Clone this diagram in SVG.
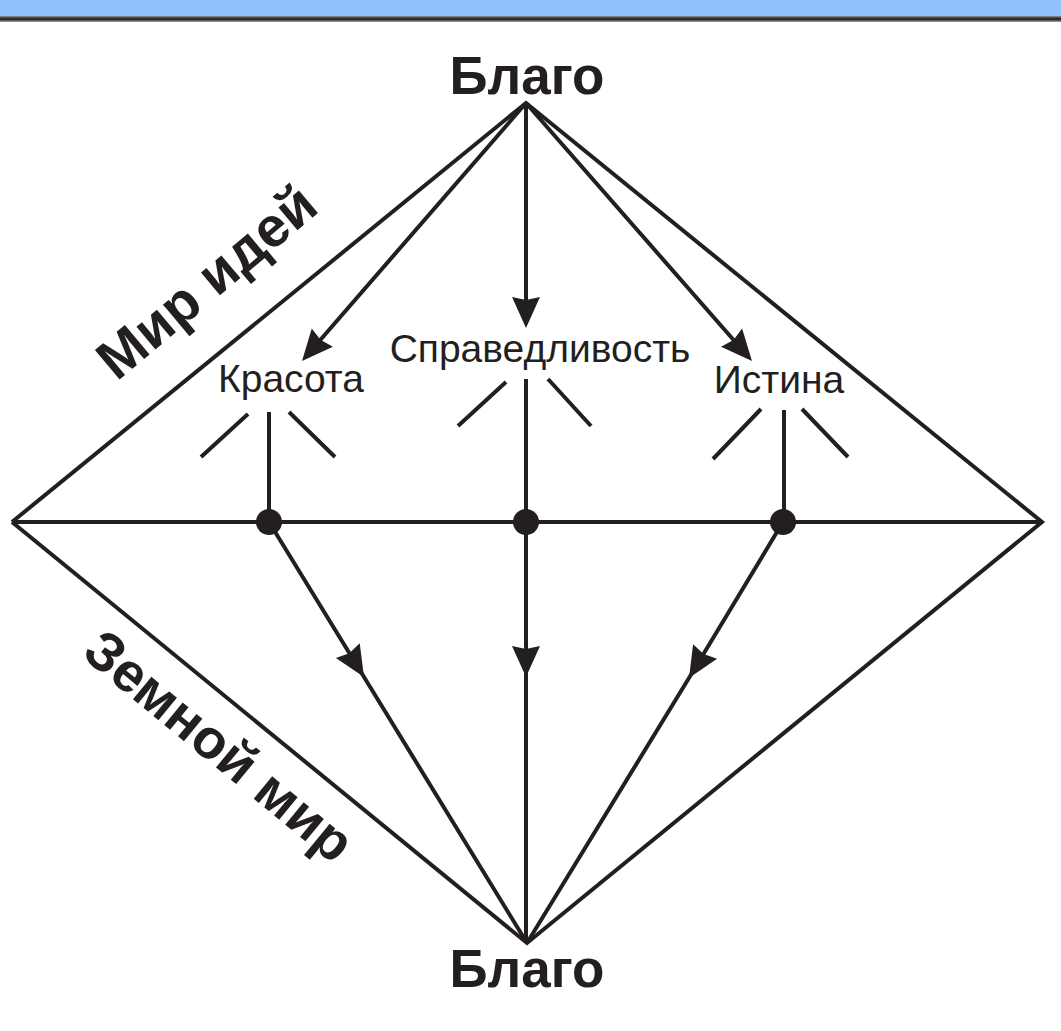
<svg xmlns="http://www.w3.org/2000/svg" width="1061" height="1031" viewBox="0 0 1061 1031">
<style>
.ln{stroke:#231f20;stroke-width:4;fill:none;stroke-linecap:butt}
.bold{font-family:"Liberation Sans",Arial,sans-serif;font-weight:bold;fill:#231f20}
.reg{font-family:"Liberation Sans",Arial,sans-serif;fill:#231f20;font-size:39px}
.dot{fill:#231f20}
</style>
<defs>
<marker id="arrEnd" markerUnits="userSpaceOnUse" markerWidth="32" markerHeight="30" viewBox="0 0 32 30" refX="26" refY="15" orient="auto">
<path d="M0,1 L31,15 L0,29 L3,15 Z" fill="#231f20"/>
</marker>
<marker id="arrMid" markerUnits="userSpaceOnUse" markerWidth="32" markerHeight="30" viewBox="0 0 32 30" refX="31" refY="15" orient="auto">
<path d="M0,1 L31,15 L0,29 L3,15 Z" fill="#231f20"/>
</marker>
</defs>
<rect width="1061" height="1031" fill="#ffffff"/>
<g id="header">
<rect x="0" y="0" width="1061" height="16.5" fill="#90c3fe"/>
<rect x="0" y="16.5" width="1061" height="5" fill="#2f2b2c"/>
<rect x="0" y="16.5" width="1061" height="1" fill="#777"/>
<rect x="0" y="20.5" width="1061" height="1" fill="#888"/>
</g>
<g id="connectors">
<polyline class="ln" points="12,522 526,103 1042,522 527,943 12,522"/>
<line class="ln" x1="12" y1="522" x2="1042" y2="522"/>
<line class="ln" x1="526" y1="103" x2="305.3" y2="357.2" marker-end="url(#arrEnd)"/>
<line class="ln" x1="526" y1="103" x2="526" y2="323" marker-end="url(#arrEnd)"/>
<line class="ln" x1="526" y1="103" x2="748.7" y2="357.2" marker-end="url(#arrEnd)"/>
<path class="ln" d="M269,522 L364,677 L527,943" marker-mid="url(#arrMid)"/>
<path class="ln" d="M526,522 L526,677 L526,943" marker-mid="url(#arrMid)"/>
<path class="ln" d="M783,522 L689,678 L527,943" marker-mid="url(#arrMid)"/>
<line class="ln" x1="269" y1="412" x2="269" y2="522"/>
<line class="ln" x1="248" y1="414" x2="201" y2="457"/>
<line class="ln" x1="289" y1="412" x2="335" y2="457"/>
<line class="ln" x1="526" y1="379" x2="526" y2="522"/>
<line class="ln" x1="506" y1="382" x2="458" y2="426"/>
<line class="ln" x1="548" y1="379" x2="591" y2="426"/>
<line class="ln" x1="784" y1="410" x2="784" y2="522"/>
<line class="ln" x1="761" y1="409" x2="713" y2="459"/>
<line class="ln" x1="802" y1="409" x2="848" y2="457"/>
</g>
<g id="node-blago-top"><text class="bold" x="527" y="94" font-size="53" text-anchor="middle">Благо</text></g>
<g id="node-blago-bottom"><text class="bold" x="527" y="987" font-size="53" text-anchor="middle">Благо</text></g>
<g id="node-krasota"><text class="reg" x="291" y="392" text-anchor="middle">Красота</text><circle class="dot" cx="269" cy="522" r="13"/></g>
<g id="node-spravedlivost"><text class="reg" x="540" y="362" text-anchor="middle">Справедливость</text><circle class="dot" cx="526" cy="522" r="13"/></g>
<g id="node-istina"><text class="reg" x="779" y="393" text-anchor="middle">Истина</text><circle class="dot" cx="783" cy="522" r="13"/></g>
<g id="label-mir-idei"><text class="bold" font-size="56" text-anchor="middle" transform="translate(206,281) rotate(-40)" y="20">Мир идей</text></g>
<g id="label-zemnoi-mir"><text class="bold" font-size="55" text-anchor="middle" transform="translate(220,745) rotate(39.5)" y="20">Земной мир</text></g>
</svg>
